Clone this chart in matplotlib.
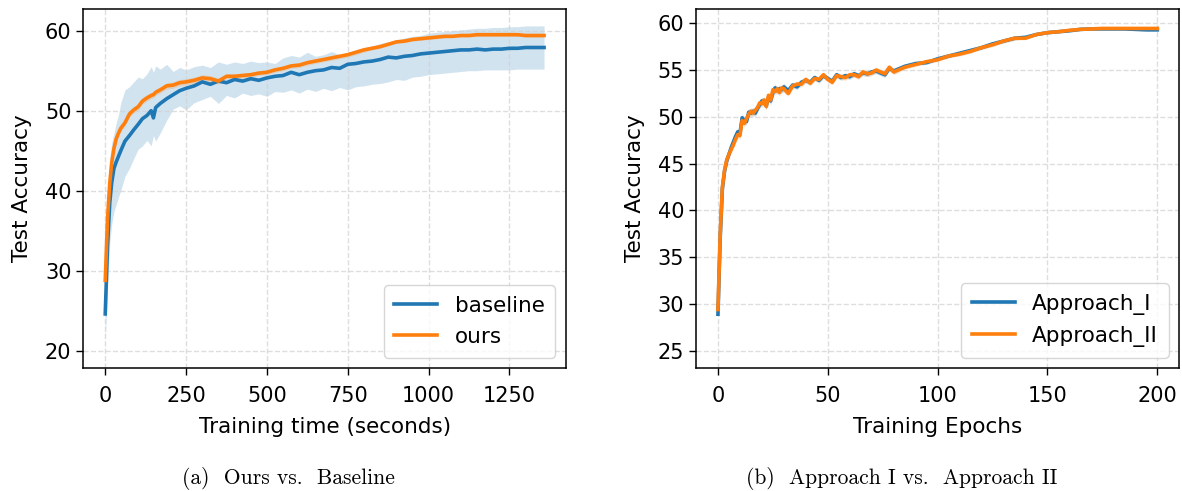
import matplotlib
matplotlib.use("Agg")
import matplotlib.pyplot as plt

# ---------------- data : (a) ours vs baseline ----------------
time_s = [0, 7, 14, 20, 27, 34, 41, 48, 61, 75, 88, 102, 115, 129, 142, 149, 156, 170,
          190, 210, 230, 250, 275, 300, 325, 350, 375, 400, 425, 450, 475, 500, 525, 550,
          575, 600, 625, 650, 675, 700, 725, 750, 775, 800, 825, 850, 875, 900, 925, 950,
          975, 1000, 1025, 1050, 1075, 1100, 1125, 1150, 1175, 1200, 1225, 1250, 1275,
          1300, 1325, 1357]

baseline = [24.6, 33.0, 38.5, 41.0, 42.8, 43.6, 44.3, 45.0, 46.2, 46.9, 47.6, 48.3, 49.0,
            49.4, 50.0, 49.1, 50.4, 50.9, 51.5, 52.0, 52.5, 52.8, 53.1, 53.6, 53.3, 53.7,
            53.5, 53.9, 53.7, 54.0, 53.8, 54.1, 54.3, 54.4, 54.8, 54.5, 54.8, 55.0, 55.1,
            55.4, 55.3, 55.8, 55.9, 56.1, 56.2, 56.4, 56.7, 56.6, 56.8, 56.9, 57.1, 57.2,
            57.3, 57.4, 57.5, 57.6, 57.6, 57.7, 57.6, 57.7, 57.7, 57.8, 57.8, 57.9, 57.9,
            57.9]
baseline_hi = [28.2, 38.0, 44.0, 46.0, 47.2, 48.5, 49.5, 51.0, 52.6, 53.0, 53.6, 54.2, 54.0,
               54.6, 55.5, 54.8, 55.6, 55.2, 55.8, 54.9, 55.4, 55.1, 55.5, 55.7, 55.4, 56.1,
               55.8, 56.1, 55.9, 56.2, 56.0, 56.1, 55.9, 56.6, 56.9, 56.7, 57.3, 56.8, 57.0,
               57.4, 57.0, 57.3, 57.6, 57.9, 58.1, 58.4, 58.6, 58.8, 59.1, 59.3, 59.4, 59.7,
               59.8, 59.9, 60.0, 60.1, 60.2, 60.3, 60.3, 60.4, 60.4, 60.5, 60.5, 60.6, 60.6,
               60.6]
baseline_lo = [21.0, 28.0, 33.5, 35.8, 37.4, 38.3, 39.2, 40.0, 41.8, 42.8, 44.0, 45.2, 45.6,
               46.3, 45.6, 46.9, 46.2, 47.2, 48.8, 50.2, 50.6, 50.1, 51.0, 51.4, 51.8, 50.9,
               51.9, 51.6, 52.2, 51.9, 52.1, 51.8, 52.4, 52.3, 52.6, 52.2, 52.7, 52.4, 52.8,
               52.5, 52.9, 52.6, 53.0, 53.1, 53.3, 53.4, 53.6, 53.9, 53.8, 54.2, 54.3, 54.5,
               54.6, 54.7, 54.8, 54.9, 55.0, 55.0, 55.1, 55.1, 55.1, 55.1, 55.2, 55.2, 55.2,
               55.2]

ours = [28.8, 36.5, 41.0, 43.5, 45.3, 46.5, 47.2, 47.8, 48.5, 49.6, 50.1, 50.5, 51.2, 51.6,
        51.9, 52.0, 52.3, 52.6, 53.1, 53.2, 53.5, 53.6, 53.8, 54.1, 54.0, 53.7, 54.3, 54.3,
        54.4, 54.5, 54.7, 54.8, 55.1, 55.3, 55.6, 55.7, 56.0, 56.2, 56.4, 56.6, 56.8, 57.0,
        57.3, 57.6, 57.8, 58.0, 58.3, 58.6, 58.7, 58.9, 59.0, 59.1, 59.2, 59.3, 59.3, 59.4,
        59.4, 59.5, 59.5, 59.5, 59.5, 59.5, 59.5, 59.4, 59.4, 59.4]
ours_std = [0.3, 0.5, 0.5, 0.4, 0.4, 0.4, 0.4, 0.4, 0.4, 0.4, 0.4, 0.4, 0.4, 0.4, 0.4, 0.4,
            0.4, 0.4, 0.4, 0.4, 0.4, 0.4, 0.4, 0.4, 0.4, 0.4, 0.3, 0.3, 0.3, 0.3, 0.3, 0.3,
            0.3, 0.3, 0.3, 0.3, 0.3, 0.3, 0.3, 0.3, 0.3, 0.3, 0.3, 0.3, 0.2, 0.2, 0.2, 0.2,
            0.2, 0.2, 0.2, 0.2, 0.2, 0.2, 0.2, 0.2, 0.2, 0.2, 0.2, 0.2, 0.2, 0.2, 0.2, 0.2,
            0.2, 0.2]

# ---------------- data : (b) approach I vs approach II ----------------
epochs = [0, 1, 2, 3, 4, 5, 6, 7, 8, 9, 10, 11, 12, 13, 14, 15, 16, 17, 18, 19, 20, 21, 22,
          23, 24, 25, 26, 27, 28, 29, 30, 32, 34, 36, 38, 40, 42, 44, 46, 48, 50, 52, 54,
          56, 58, 60, 62, 64, 66, 68, 70, 72, 74, 76, 78, 80, 85, 90, 95, 100, 105, 110,
          115, 120, 125, 130, 135, 140, 145, 150, 155, 160, 165, 170, 175, 180, 185, 190,
          195, 200]

approach_1 = [28.9, 37.0, 42.3, 44.2, 45.3, 46.0, 46.7, 47.3, 47.9, 48.4, 48.2, 49.9, 49.6,
              49.5, 50.5, 50.4, 50.6, 50.4, 50.9, 51.3, 51.7, 51.5, 51.2, 52.1, 51.7, 52.6,
              53.1, 52.8, 53.0, 52.9, 53.2, 52.8, 53.4, 53.2, 53.7, 53.9, 53.7, 54.2, 53.9,
              54.4, 54.1, 53.8, 54.5, 54.2, 54.4, 54.3, 54.6, 54.4, 54.7, 54.6, 54.8, 54.9,
              54.7, 54.5, 55.2, 54.9, 55.4, 55.7, 55.8, 56.2, 56.5, 56.8, 57.1, 57.4, 57.8,
              58.1, 58.4, 58.5, 58.8, 59.0, 59.1, 59.2, 59.35, 59.4, 59.4, 59.4, 59.4, 59.35,
              59.3, 59.3]
approach_2 = [29.4, 37.4, 42.5, 44.3, 45.4, 46.0, 46.5, 47.0, 47.6, 48.1, 48.0, 49.6, 49.3,
              49.8, 50.3, 50.6, 50.4, 50.7, 51.0, 51.5, 51.4, 51.8, 51.1, 52.3, 51.8, 52.9,
              52.7, 53.0, 52.6, 53.1, 53.0, 52.5, 53.3, 53.5, 53.5, 54.0, 53.6, 54.1, 54.0,
              54.5, 54.0, 53.7, 54.4, 54.3, 54.2, 54.5, 54.5, 54.3, 54.8, 54.6, 54.7, 55.0,
              54.8, 54.6, 55.3, 54.8, 55.3, 55.6, 55.9, 56.1, 56.5, 56.7, 57.0, 57.4, 57.7,
              58.1, 58.4, 58.4, 58.8, 59.0, 59.1, 59.25, 59.35, 59.4, 59.45, 59.45, 59.45,
              59.45, 59.45, 59.45]
approach_std = [0.2, 0.5, 0.5, 0.4, 0.4, 0.4, 0.4, 0.4, 0.4, 0.4, 0.4, 0.4, 0.4, 0.4, 0.4,
                0.4, 0.4, 0.4, 0.4, 0.4, 0.4, 0.4, 0.4, 0.4, 0.4, 0.4, 0.4, 0.4, 0.4, 0.4,
                0.4, 0.3, 0.3, 0.3, 0.3, 0.3, 0.3, 0.3, 0.3, 0.3, 0.3, 0.3, 0.3, 0.3, 0.3,
                0.3, 0.3, 0.3, 0.3, 0.3, 0.3, 0.3, 0.3, 0.3, 0.3, 0.3, 0.2, 0.2, 0.2, 0.2,
                0.2, 0.2, 0.2, 0.2, 0.2, 0.2, 0.2, 0.1, 0.1, 0.1, 0.1, 0.1, 0.1, 0.1, 0.1,
                0.1, 0.1, 0.1, 0.1, 0.1]

C0, C1 = '#1f77b4', '#ff7f0e'
W, H = 1182.0, 491.0

fig = plt.figure(figsize=(W / 100, H / 100), dpi=100)

# axes rectangles in pixels (left, top, right, bottom)
ax1 = fig.add_axes([83.3 / W, 1 - 368.3 / H, (566 - 83.3) / W, (368.3 - 8.7) / H])
ax2 = fig.add_axes([696 / W, 1 - 368.3 / H, (1179.3 - 696) / W, (368.3 - 8.7) / H])

# ---- left panel
ax1.fill_between(time_s, baseline_lo, baseline_hi, color=C0, alpha=0.2, lw=0)
ax1.fill_between(time_s, [m - s for m, s in zip(ours, ours_std)],
                 [m + s for m, s in zip(ours, ours_std)], color=C1, alpha=0.2, lw=0)
ax1.plot(time_s, baseline, color=C0, lw=2.6, label='baseline')
ax1.plot(time_s, ours, color=C1, lw=2.6, label='ours')
ax1.set_ylim(17.8, 62.75)
ax1.set_yticks([20, 30, 40, 50, 60])
ax1.set_xticks([0, 250, 500, 750, 1000, 1250])
ax1.set_xlabel('Training time (seconds)', fontsize=15.5, labelpad=8)
ax1.set_ylabel('Test Accuracy', fontsize=15.5, labelpad=9)

# ---- right panel
ax2.fill_between(epochs, [m - s for m, s in zip(approach_1, approach_std)],
                 [m + s for m, s in zip(approach_1, approach_std)], color=C0, alpha=0.2, lw=0)
ax2.fill_between(epochs, [m - s for m, s in zip(approach_2, approach_std)],
                 [m + s for m, s in zip(approach_2, approach_std)], color=C1, alpha=0.2, lw=0)
ax2.plot(epochs, approach_1, color=C0, lw=2.6, label='Approach_I')
ax2.plot(epochs, approach_2, color=C1, lw=2.6, label='Approach_II')
ax2.set_ylim(23.12, 61.56)
ax2.set_yticks([25, 30, 35, 40, 45, 50, 55, 60])
ax2.set_xticks([0, 50, 100, 150, 200])
ax2.set_xlabel('Training Epochs', fontsize=15.5, labelpad=8)
ax2.set_ylabel('Test Accuracy', fontsize=15.5, labelpad=9)

for ax in (ax1, ax2):
    ax.grid(True, linestyle='--', color='#d0d0d0', alpha=0.7, lw=1.0)
    ax.tick_params(labelsize=15, length=5, width=1.0)
    ax.tick_params(axis='x', pad=7.5)
    for sp in ax.spines.values():
        sp.set_linewidth(1.1)
    ax.legend(loc='lower right', fontsize=15.5, handlelength=2.0, borderpad=0.5)

# captions (LaTeX-like serif)
fig.text(288 / W, 1 - 478 / H, '(a)  Ours vs.  Baseline', family='cmr10',
         fontsize=15.5, ha='center', va='center')
fig.text(902 / W, 1 - 478 / H, '(b)  Approach I vs.  Approach II', family='cmr10',
         fontsize=15.5, ha='center', va='center')

plt.savefig('out.png', dpi=100)
